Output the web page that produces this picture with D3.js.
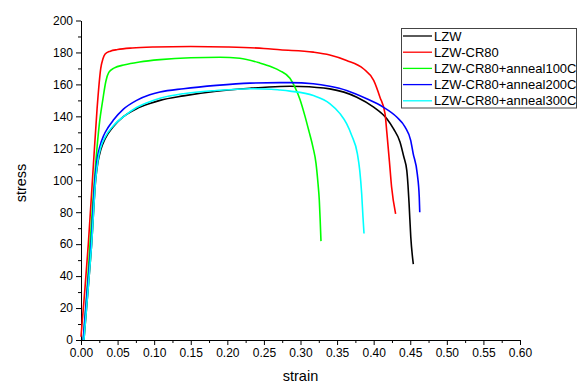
<!DOCTYPE html>
<html>
<head>
<meta charset="utf-8">
<script src="https://cdn.jsdelivr.net/npm/d3@7/dist/d3.min.js"></script>
<style>
  html, body { margin: 0; padding: 0; background: #fff; }
  svg { display: block; font-family: "Liberation Sans", Arial, sans-serif; }
</style>
</head>
<body>
<svg id="chart" width="578" height="387"></svg>
<script>
// ---- data (strain, stress) ----
const seriesNames = ["LZW", "LZW-CR80", "LZW-CR80+anneal100C", "LZW-CR80+anneal200C", "LZW-CR80+anneal300C"];
const seriesColors = ["#000000", "#ff0000", "#00ff00", "#0000ff", "#00ffff"];

const lzw = [[0.004,0],[0.009,28],[0.0145,60],[0.02,100],[0.023,111],[0.027,119],[0.033,126],[0.044,133.5],[0.058,139.8],[0.076,144.8],[0.094,148],[0.108,150],[0.14,152.8],[0.185,155.7],[0.231,157.6],[0.272,158.7],[0.286,158.8],[0.30,158.7],[0.34,157.2],[0.377,152],[0.40,145.8],[0.418,138.5],[0.427,132.3],[0.436,124],[0.441,115],[0.4453,106],[0.4469,97],[0.4484,85.4],[0.4507,64.6],[0.4542,47.5]];
const cr80 = [[0,2],[0.005,30],[0.01,60],[0.017,110],[0.022,145],[0.027,170],[0.030,176],[0.033,179],[0.04,180.8],[0.05,181.8],[0.07,182.8],[0.1,183.4],[0.15,183.7],[0.2,183.4],[0.25,182.5],[0.272,181.7],[0.3175,180.2],[0.34,178.4],[0.363,175],[0.386,169.8],[0.40,162.5],[0.4086,152],[0.4155,141.7],[0.418,130],[0.4215,112],[0.4245,95.8],[0.430,79]];
const a100 = [[0.003,0],[0.008,30],[0.0123,60],[0.016,85],[0.020,110],[0.025,135],[0.030,151],[0.034,162],[0.038,167.5],[0.045,170.2],[0.06,172.3],[0.08,174],[0.108,175.5],[0.15,176.7],[0.19,177],[0.217,176.4],[0.245,173.3],[0.26,171],[0.272,168.5],[0.2856,163.8],[0.2925,158.1],[0.2993,150.6],[0.3062,140],[0.3116,130.6],[0.3171,120.6],[0.3212,110.6],[0.3239,98.1],[0.3257,87.5],[0.3269,75],[0.328,61.9]];
const a200 = [[0.003,0],[0.008,28],[0.0137,60],[0.019,100],[0.022,113],[0.026,121.5],[0.031,128],[0.037,133],[0.044,137.5],[0.058,144.5],[0.076,150],[0.094,153.5],[0.108,155.2],[0.14,157.3],[0.185,159.4],[0.231,160.8],[0.272,161.1],[0.2856,161.1],[0.3175,160.4],[0.34,158.8],[0.363,156.2],[0.3905,151],[0.413,145.8],[0.4315,139.6],[0.443,133.3],[0.4506,125],[0.454,116.7],[0.4596,104],[0.4623,89.6],[0.463,80]];
const a300 = [[0.004,0],[0.009,28],[0.0145,60],[0.02,100],[0.023,112],[0.027,120.5],[0.033,127],[0.044,134],[0.06,140.5],[0.076,145.5],[0.094,149.2],[0.108,151.3],[0.14,154.2],[0.185,156.2],[0.231,157.3],[0.26,157],[0.272,156.5],[0.2856,155.8],[0.3175,153],[0.34,148],[0.354,141.7],[0.363,135.4],[0.370,128],[0.3777,116.7],[0.381,106],[0.3836,91.7],[0.3854,77],[0.3868,66.7]];
const allSeries = [lzw, cr80, a100, a200, a300];

const xTickValues = [0,0.05,0.1,0.15,0.2,0.25,0.3,0.35,0.4,0.45,0.5,0.55,0.6];
const xTickLabels = ["0.00","0.05","0.10","0.15","0.20","0.25","0.30","0.35","0.40","0.45","0.50","0.55","0.60"];
const yTickValues = [0,20,40,60,80,100,120,140,160,180,200];
const xTitle = "strain";
const yTitle = "stress";

// ---- drawing ----
const svg = d3.select("#chart");
const x = d3.scaleLinear().domain([0, 0.6]).range([81, 520]);
const y = d3.scaleLinear().domain([0, 200]).range([340, 20.5]);

// minor ticks
const xMinor = d3.range(0.025, 0.6, 0.05);
const yMinor = d3.range(10, 200, 20);

const axisColor = "#000";
svg.append("g").attr("transform", `translate(0,${y(0)})`)
  .call(d3.axisBottom(x).tickValues(xTickValues).tickFormat((d,i) => xTickLabels[i]).tickSizeInner(5).tickSizeOuter(0).tickPadding(3));
svg.append("g").attr("transform", `translate(0,${y(0)})`)
  .call(d3.axisBottom(x).tickValues(xMinor).tickFormat("").tickSizeInner(3).tickSizeOuter(0))
  .select(".domain").remove();
svg.append("g").attr("transform", `translate(${x(0)},0)`)
  .call(d3.axisLeft(y).tickValues(yTickValues).tickSizeInner(5).tickSizeOuter(0).tickPadding(3));
svg.append("g").attr("transform", `translate(${x(0)},0)`)
  .call(d3.axisLeft(y).tickValues(yMinor).tickFormat("").tickSizeInner(3).tickSizeOuter(0))
  .select(".domain").remove();

svg.selectAll(".tick text").attr("font-size", 12).attr("fill", "#000")
  .attr("font-family", "'Liberation Sans', Arial, sans-serif");
svg.selectAll(".domain, .tick line").attr("stroke", axisColor).attr("stroke-width", 1);

// axis titles
svg.append("text").attr("x", (x(0) + x(0.6)) / 2).attr("y", 381)
  .attr("text-anchor", "middle").attr("font-size", 14.5).text(xTitle);
svg.append("text").attr("transform", `translate(26,183) rotate(-90)`)
  .attr("text-anchor", "middle").attr("font-size", 14.5).text(yTitle);

// lines
const line = d3.line().x(d => x(d[0])).y(d => y(d[1])).curve(d3.curveMonotoneX);
svg.append("g").selectAll("path").data(allSeries).join("path")
  .attr("d", line).attr("fill", "none")
  .attr("stroke", (d,i) => seriesColors[i]).attr("stroke-width", 1.6)
  .attr("stroke-linejoin", "round");

// legend
const lg = svg.append("g");
lg.append("rect").attr("x", 401.5).attr("y", 28.5).attr("width", 175).attr("height", 79.5)
  .attr("fill", "#fff").attr("stroke", "#444").attr("stroke-width", 1);
seriesNames.forEach((name, i) => {
  const yy = 36 + i * 16.2;
  lg.append("line").attr("x1", 403).attr("x2", 432).attr("y1", yy).attr("y2", yy)
    .attr("stroke", seriesColors[i]).attr("stroke-width", 1.3);
  lg.append("text").attr("x", 434).attr("y", yy).attr("dy", "0.36em")
    .attr("font-size", 13).text(name);
});
</script>
</body>
</html>
